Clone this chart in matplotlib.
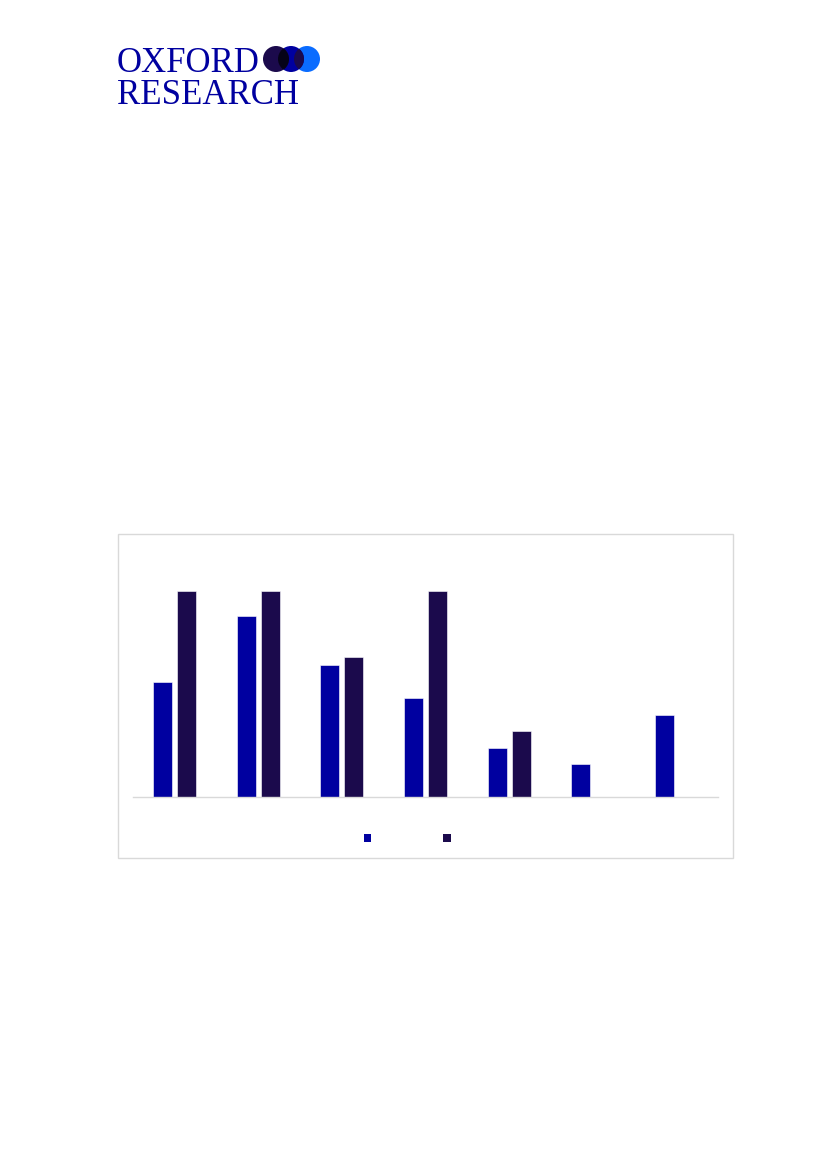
import numpy as np
import matplotlib
matplotlib.use("Agg")
import matplotlib.pyplot as plt
from matplotlib.patches import Rectangle, Circle, Patch

# values (max bar = 25)
groups = ["1", "2", "3", "4", "5", "6", "7"]
series_a = [14, 22, 16, 12, 6, 4, 10]
series_b = [25, 25, 17, 25, 8, 0, 0]

BLUE = "#0000A0"
DARK = "#1B0A4C"
LIGHT = "#0A6CFF"
GRID = "#D9D9D9"

W, H = 827, 1169
fig = plt.figure(figsize=(W / 100, H / 100), dpi=100)

# page overlay in pixel coordinates (logo + chart frame)
page = fig.add_axes([0, 0, 1, 1])
page.set_xlim(0, W)
page.set_ylim(H, 0)
page.axis("off")

page.text(117, 72, "OXFORD", family="Liberation Serif", fontsize=25,
          color=BLUE, ha="left", va="baseline")
page.text(117, 104, "RESEARCH", family="Liberation Serif", fontsize=25,
          color=BLUE, ha="left", va="baseline")

r = 13
c1 = Circle((276, 59), r, color=DARK, lw=0)
c2 = Circle((291, 59), r, color=BLUE, lw=0)
c3 = Circle((307, 59), r, color=LIGHT, lw=0)
for c in (c3, c2, c1):
    page.add_patch(c)
# overlaps
ov1 = Circle((291, 59), r, color="#050218", lw=0)
page.add_patch(ov1)
ov1.set_clip_path(c1)
ov2 = Circle((291, 59), r, color=DARK, lw=0)
page.add_patch(ov2)
ov2.set_clip_path(c3)

page.add_patch(Rectangle((118, 534), 615, 324, facecolor="none",
                         edgecolor=GRID, lw=1))

# chart
left, right, base, top = 133, 718, 797, 550
ax = fig.add_axes([left / W, (H - base) / H, (right - left) / W, (base - top) / H])
x = np.arange(len(groups))
bw = 0.228
off = 0.144
ax.bar(x - off, series_a, bw, color=BLUE, edgecolor="white", lw=0.4, label="")
ax.bar(x + off, series_b, bw, color=DARK, edgecolor="white", lw=0.4, label="")
ax.set_xlim(-0.5, len(groups) - 0.5)
ax.set_ylim(0, 30)
for s in ("top", "left", "right"):
    ax.spines[s].set_visible(False)
ax.spines["bottom"].set_color(GRID)
ax.spines["bottom"].set_linewidth(1)
ax.set_xticks([])
ax.set_yticks([])
ax.patch.set_alpha(0)

handles = [Patch(facecolor=BLUE), Patch(facecolor=DARK)]
fig.legend(handles, ["", ""], loc="center left",
           bbox_to_anchor=(363.5 / W, (H - 839) / H), ncol=2, frameon=False,
           fontsize=10, handlelength=0.55, handleheight=0.55, handletextpad=0.8,
           columnspacing=4.4, borderpad=0, borderaxespad=0)

fig.savefig("out.png", dpi=100)
